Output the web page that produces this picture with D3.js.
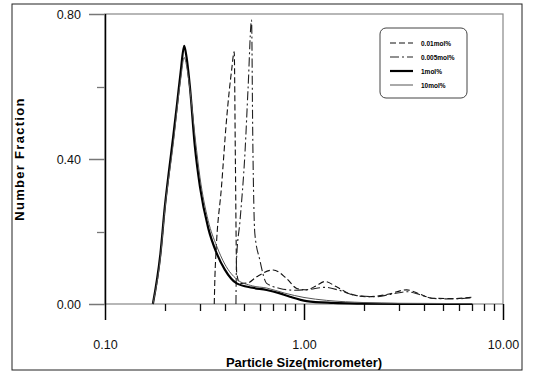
<!DOCTYPE html>
<html>
<head>
<meta charset="utf-8">
<script src="https://cdn.jsdelivr.net/npm/d3@7"></script>
<style>
  body { margin: 0; background: #fff; }
  text { font-family: "Liberation Sans", Arial, sans-serif; }
</style>
</head>
<body>
<div id="chart"></div>
<script>
// particle size (micrometer) vs number fraction
const seriesNames = ['0.01mol%', '0.005mol%', '1mol%', '10mol%'];

const dist001 = [[0.354,0],[0.357,0.08],[0.361,0.14],[0.385,0.324],[0.408,0.508],[0.433,0.646],[0.446,0.696],
  [0.452,0.40],[0.459,0.085],[0.477,0.057],[0.52,0.058],[0.578,0.075],[0.70,0.094],[0.815,0.071],[0.92,0.043],
  [1.03,0.039],[1.15,0.05],[1.275,0.062],[1.45,0.048],[1.7,0.028],[2.1,0.02],[2.6,0.026],[3.28,0.039],
  [3.8,0.028],[4.4,0.016],[5.5,0.015],[7.06,0.019]];

const dist0005 = [[0.455,0],[0.458,0.12],[0.477,0.23],[0.505,0.416],[0.524,0.60],[0.545,0.783],
  [0.553,0.45],[0.566,0.195],[0.60,0.121],[0.649,0.057],[0.757,0.043],[0.9,0.038],[1.05,0.04],
  [1.275,0.046],[1.5,0.038],[1.8,0.024],[2.3,0.02],[2.8,0.028],[3.3,0.034],[3.9,0.024],[4.5,0.015],
  [5.5,0.014],[7.0,0.017]];

const dist1 = [[0.174,0],[0.19,0.14],[0.20,0.27],[0.21,0.37],[0.22,0.46],[0.23,0.55],[0.24,0.64],
  [0.25,0.712],[0.257,0.68],[0.267,0.60],[0.283,0.434],[0.30,0.324],[0.33,0.21],[0.364,0.14],
  [0.40,0.095],[0.459,0.057],[0.55,0.045],[0.649,0.0386],[0.75,0.03],[0.85,0.02],[1.03,0.008],
  [1.4,0.003],[1.91,0.001],[3,0],[7,0]];

const dist10 = [[0.174,0],[0.19,0.13],[0.20,0.26],[0.22,0.44],[0.24,0.62],[0.25,0.68],[0.26,0.64],
  [0.27,0.57],[0.285,0.45],[0.30,0.35],[0.33,0.23],[0.364,0.16],[0.40,0.11],[0.46,0.068],[0.55,0.05],
  [0.65,0.044],[0.8,0.03],[1.0,0.018],[1.3,0.01],[2,0.004],[3,0.002],[7,0.001]];

const xTickValues = [0.1, 1, 10];
const xTickLabels = ['0.10', '1.00', '10.00'];
const xMinorTicks = [0.2, 0.3, 0.4, 0.5, 0.6, 0.7, 0.8, 0.9, 2, 3, 4, 5, 6, 7, 8, 9];
const yTickValues = [0, 0.4, 0.8];
const yTickLabels = ['0.00', '0.40', '0.80'];
const yMinorTicks = [0.2, 0.6];

const width = 533, height = 374;
const plotLeft = 105, plotRight = 503, plotTop = 14, plotBottom = 304;

const svg = d3.select('#chart').append('svg')
  .attr('width', width).attr('height', height);

const x = d3.scaleLog().domain([0.1, 10]).range([plotLeft, plotRight]);
const y = d3.scaleLinear().domain([0, 0.8]).range([plotBottom, plotTop]);

// scanned page frame
svg.append('rect')
  .attr('x', 12).attr('y', 4).attr('width', 510).attr('height', 366)
  .attr('fill', 'none').attr('stroke', '#222').attr('stroke-width', 1);

// plot box (gray)
svg.append('rect')
  .attr('x', plotLeft).attr('y', plotTop)
  .attr('width', plotRight - plotLeft).attr('height', plotBottom - plotTop)
  .attr('fill', 'none').attr('stroke', '#888').attr('stroke-width', 1.2);

// tick marks, placed with the scales
const ticks = svg.append('g').attr('class', 'tickmarks');

ticks.selectAll('line.xminor')
  .data(xMinorTicks)
  .enter().append('line')
  .attr('class', 'xminor')
  .attr('x1', d => Math.round(x(d)) + 0.5).attr('x2', d => Math.round(x(d)) + 0.5)
  .attr('y1', plotBottom).attr('y2', plotBottom + 7)
  .style('stroke', '#111').style('stroke-width', '1.3px');

ticks.selectAll('line.xmajor')
  .data(xTickValues)
  .enter().append('line')
  .attr('class', 'xmajor')
  .attr('x1', d => Math.round(x(d)) + 0.5).attr('x2', d => Math.round(x(d)) + 0.5)
  .attr('y1', d => d === 0.1 ? plotTop : plotBottom).attr('y2', plotBottom + 16)
  .style('stroke', '#000').style('stroke-width', '1.5px');

ticks.selectAll('line.yminor')
  .data(yMinorTicks)
  .enter().append('line')
  .attr('class', 'yminor')
  .attr('x1', plotLeft - 8).attr('x2', plotLeft)
  .attr('y1', d => Math.round(y(d)) + 0.5).attr('y2', d => Math.round(y(d)) + 0.5)
  .style('stroke', '#777').style('stroke-width', '1.3px');

ticks.selectAll('line.ymajor')
  .data(yTickValues)
  .enter().append('line')
  .attr('class', 'ymajor')
  .attr('x1', plotLeft - 16).attr('x2', plotLeft)
  .attr('y1', d => Math.round(y(d)) + 0.5).attr('y2', d => Math.round(y(d)) + 0.5)
  .style('stroke', '#777').style('stroke-width', '1.5px');

// tick labels from the axes
const xAxis = d3.axisBottom(x).tickValues(xTickValues).tickSize(0).tickPadding(36)
  .tickFormat((d, i) => xTickLabels[i]);
const gx = svg.append('g').attr('transform', 'translate(0,' + plotBottom + ')').call(xAxis);
gx.select('.domain').remove();
gx.selectAll('.tick text').attr('font-size', 12.5).attr('fill', '#111');

const yAxis = d3.axisLeft(y).tickValues(yTickValues).tickSize(0).tickPadding(24)
  .tickFormat((d, i) => yTickLabels[i]);
const gy = svg.append('g').attr('transform', 'translate(' + plotLeft + ',0)').call(yAxis);
gy.select('.domain').remove();
gy.selectAll('.tick text').attr('font-size', 12.5).attr('fill', '#111');

// curves
const lineGen = d3.line()
  .x(d => x(d[0]))
  .y(d => y(d[1]))
  .curve(d3.curveMonotoneX);

const styles = [
  { data: dist001, stroke: '#111', width: 1.1, dash: '6,3' },
  { data: dist0005, stroke: '#222', width: 1.1, dash: '9,3,2,3' },
  { data: dist1, stroke: '#000', width: 2.2, dash: null },
  { data: dist10, stroke: '#555', width: 1, dash: null }
];

svg.append('g').selectAll('path')
  .data(styles)
  .enter()
  .append('path')
  .attr('d', d => lineGen(d.data))
  .attr('fill', 'none')
  .attr('stroke', d => d.stroke)
  .attr('stroke-width', d => d.width)
  .attr('stroke-dasharray', d => d.dash);

// legend
const legend = svg.append('g');
legend.append('rect')
  .attr('x', 380).attr('y', 28).attr('width', 87).attr('height', 70).attr('rx', 6)
  .attr('fill', '#fff').attr('stroke', '#444').attr('stroke-width', 1);

const items = legend.selectAll('g.item')
  .data(styles)
  .enter()
  .append('g')
  .attr('class', 'item')
  .attr('transform', (d, i) => 'translate(0,' + (43 + i * 14) + ')');

items.append('line')
  .attr('x1', 390).attr('x2', 413)
  .attr('stroke', d => d.stroke)
  .attr('stroke-width', d => d.width)
  .attr('stroke-dasharray', d => d.dash);

items.append('text')
  .attr('x', 421).attr('y', 2.5)
  .attr('font-size', 6.5).attr('font-weight', 'bold')
  .text((d, i) => seriesNames[i]);

// axis titles
svg.append('text')
  .attr('x', (plotLeft + plotRight) / 2).attr('y', 367)
  .attr('text-anchor', 'middle').attr('font-size', 13).attr('font-weight', 'bold')
  .text('Particle Size(micrometer)');

svg.append('text')
  .attr('transform', 'translate(24,' + ((plotTop + plotBottom) / 2) + ') rotate(-90)')
  .attr('text-anchor', 'middle').attr('font-size', 13).attr('font-weight', 'bold')
  .attr('letter-spacing', 1.3)
  .text('Number Fraction');
</script>
</body>
</html>
